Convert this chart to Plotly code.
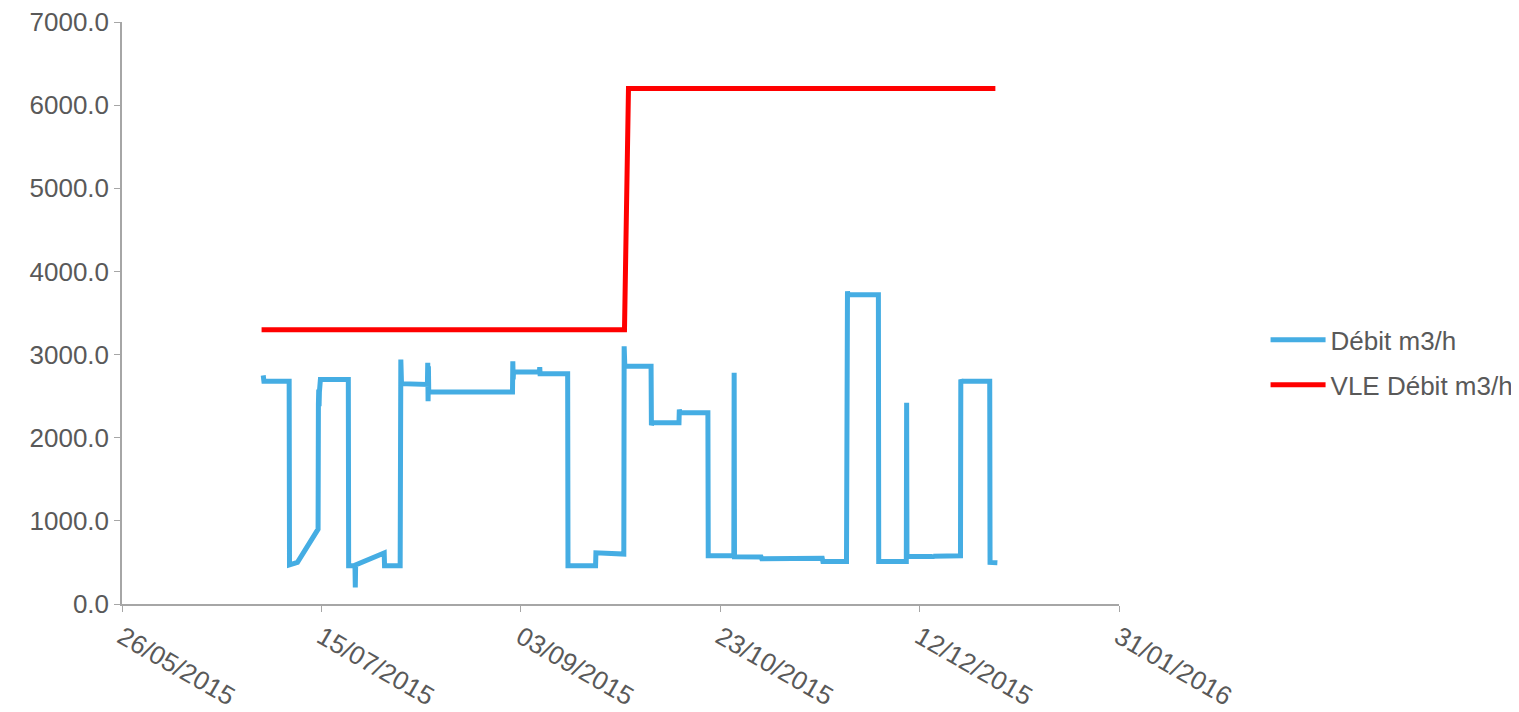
import plotly.graph_objects as go

# Débit m3/h (mesure)
debit_dates = [
    "2015-06-30 10:00", "2015-06-30 14:00", "2015-07-06 22:00", "2015-07-07 00:00",
    "2015-07-09 00:00", "2015-07-14 04:00", "2015-07-14 06:00", "2015-07-14 08:00",
    "2015-07-14 10:00", "2015-07-14 12:00", "2015-07-14 18:00", "2015-07-21 18:00",
    "2015-07-21 20:00", "2015-07-23 10:00", "2015-07-23 12:00", "2015-07-23 14:00",
    "2015-07-30 18:00", "2015-07-30 20:00", "2015-08-03 18:00", "2015-08-03 20:00",
    "2015-08-03 22:00", "2015-08-04 00:00", "2015-08-04 02:00", "2015-08-10 14:00",
    "2015-08-10 16:00", "2015-08-10 18:00", "2015-08-10 20:00", "2015-08-10 22:00",
    "2015-08-31 22:00", "2015-09-01 00:00", "2015-09-01 02:00", "2015-09-01 04:00",
    "2015-09-07 16:00", "2015-09-07 18:00", "2015-09-07 20:00", "2015-09-14 18:00",
    "2015-09-14 20:00", "2015-09-21 18:00", "2015-09-21 20:00", "2015-09-28 20:00",
    "2015-09-28 22:00", "2015-09-29 00:00", "2015-09-29 02:00", "2015-10-05 16:00",
    "2015-10-05 18:00", "2015-10-05 22:00", "2015-10-12 16:00", "2015-10-12 18:00",
    "2015-10-12 22:00", "2015-10-19 22:00", "2015-10-20 00:00", "2015-10-26 10:00",
    "2015-10-26 12:00", "2015-10-26 14:00", "2015-11-02 06:00", "2015-11-02 10:00",
    "2015-11-17 14:00", "2015-11-17 18:00", "2015-11-23 16:00", "2015-11-23 18:00",
    "2015-11-23 22:00", "2015-11-24 02:00", "2015-12-01 16:00", "2015-12-01 18:00",
    "2015-12-08 16:00", "2015-12-08 18:00", "2015-12-08 20:00", "2015-12-15 06:00",
    "2015-12-15 08:00", "2015-12-15 10:00", "2015-12-22 06:00", "2015-12-22 08:00",
    "2015-12-22 12:00", "2015-12-29 14:00", "2015-12-29 16:00", "2015-12-31 12:00",
]
debit_values = [
    2750, 2680, 2680, 470,
    500, 900, 2400, 2580,
    2380, 2550, 2700, 2700,
    460, 460, 200, 470,
    615, 460, 460, 2740,
    2940, 2380, 2650, 2640,
    2900, 2440, 2860, 2550,
    2550, 2920, 2700, 2790,
    2790, 2850, 2770, 2770,
    460, 460, 615, 600,
    3100, 2820, 2860, 2860,
    2150, 2180, 2180, 2340,
    2300, 2300, 580, 580,
    2780, 567, 565, 545,
    550, 510, 510, 3050,
    3760, 3720, 3720, 510,
    510, 2420, 570, 570,
    590, 575, 580, 2700,
    2680, 2680, 500, 495,
]

# VLE Débit m3/h (valeur limite)
vle_dates = ["2015-06-30", "2015-09-29", "2015-09-30", "2015-12-31"]
vle_values = [3300, 3300, 6200, 6200]

y_ticks = [0, 1000, 2000, 3000, 4000, 5000, 6000, 7000]

grey = "#595959"
axis_grey = "#A6A6A6"

fig = go.Figure()
fig.add_scatter(x=debit_dates, y=debit_values, mode="lines", name="Débit m3/h",
                line=dict(color="#45ADE3", width=5), legendgroup="a")
fig.add_scatter(x=vle_dates, y=vle_values, mode="lines", name="VLE Débit m3/h",
                line=dict(color="#FF0000", width=5), legendgroup="b")

# the page body adds an 8px margin, so the figure is a bit smaller than the window
fig.update_layout(
    width=1511, height=704,
    margin=dict(l=114, r=400, t=14, b=108, autoexpand=False),
    plot_bgcolor="white", paper_bgcolor="white",
    font=dict(family="Liberation Sans, Arial", size=26, color=grey),
    showlegend=True,
    legend=dict(x=1.147, y=0.415, xanchor="left", yanchor="middle",
                font=dict(size=26, color=grey), itemwidth=55,
                tracegroupgap=8, bgcolor="rgba(0,0,0,0)"),
    xaxis=dict(type="date", range=["2015-05-26", "2016-01-31"],
               tick0="2015-05-26", dtick=50 * 86400000, tickformat="%d/%m/%Y",
               tickangle=30, showgrid=False, showline=True, linecolor=axis_grey,
               linewidth=1.5, ticks="outside", ticklen=6, tickcolor=axis_grey,
               zeroline=False, automargin=False, ticklabeloverflow="allow"),
    yaxis=dict(range=[0, 7000], tickvals=y_ticks, tickformat=".1f",
               showgrid=False, showline=True, linecolor=axis_grey, linewidth=1.5,
               ticks="outside", ticklen=6, tickcolor=axis_grey, zeroline=False,
               automargin=False, ticklabeloverflow="allow"),
)

fig.write_html("out.html")
